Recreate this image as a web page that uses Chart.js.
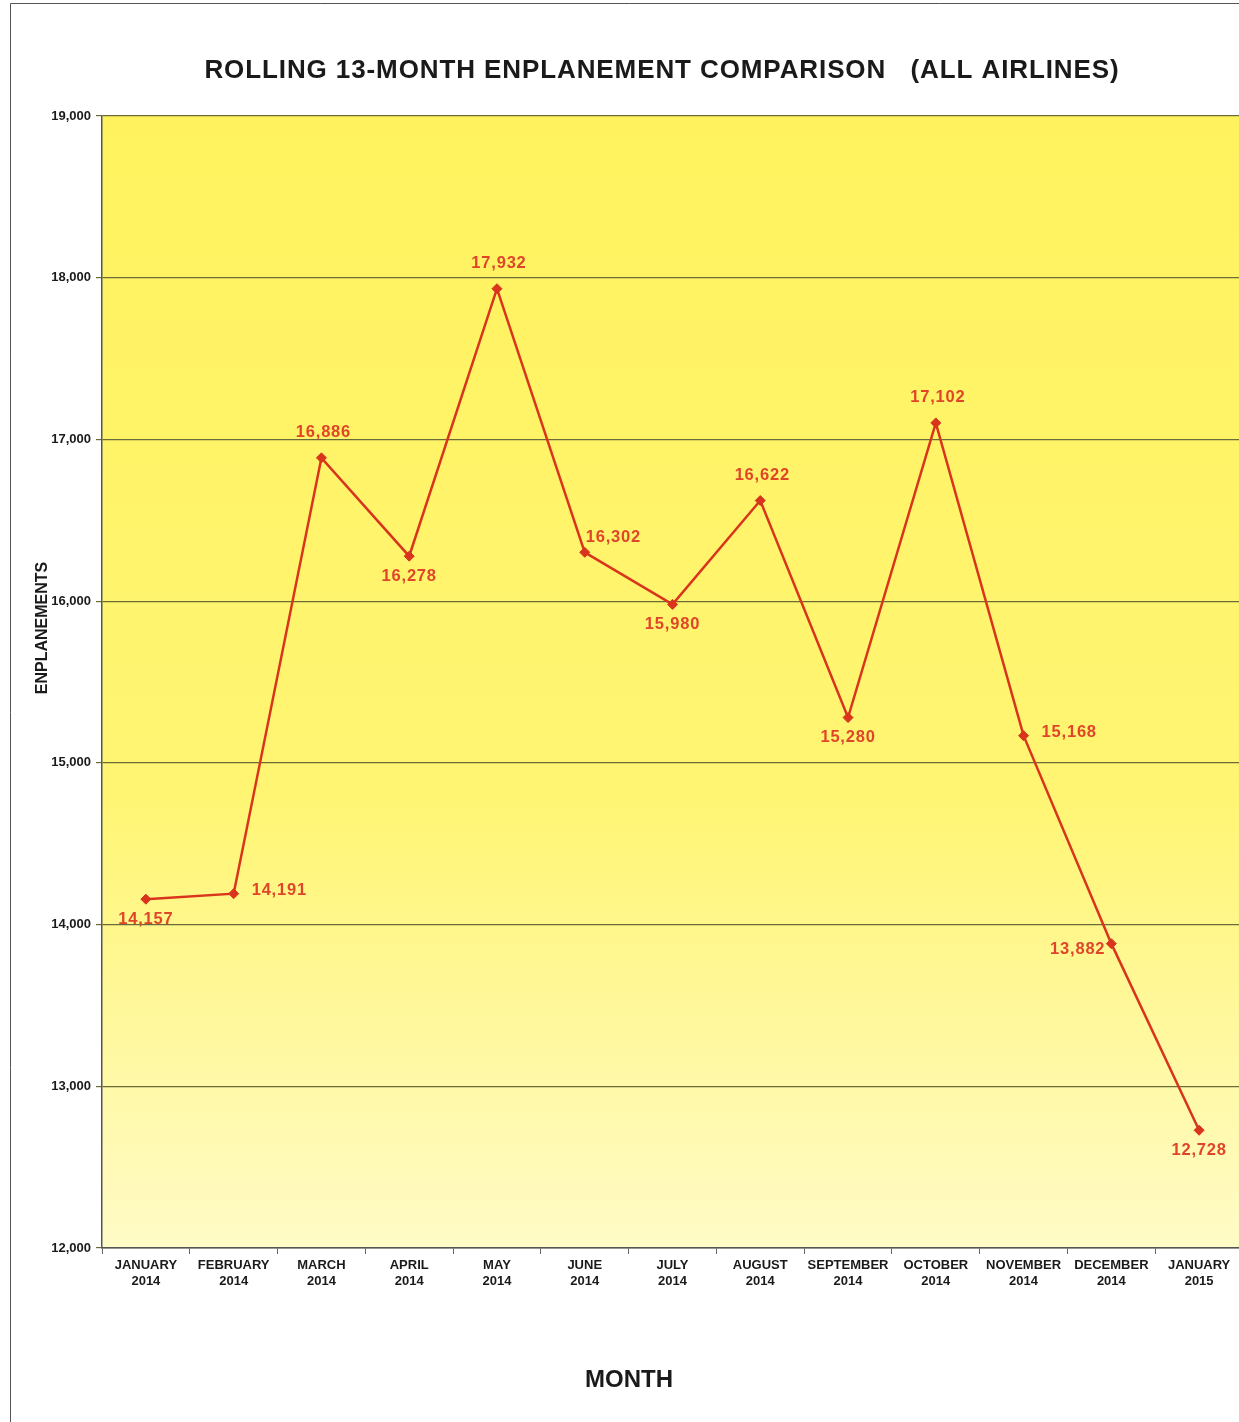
<!DOCTYPE html>
<html>
<head>
<meta charset="utf-8">
<script src="https://cdn.jsdelivr.net/npm/chart.js@4"></script>
<style>
html,body{margin:0;padding:0;background:#fff;overflow:hidden;}
#wrap{position:relative;width:1239px;height:1422px;overflow:hidden;}
</style>
</head>
<body>
<div id="wrap"><canvas id="c" width="1249" height="1422"></canvas></div>
<script>
const months = ['JANUARY','FEBRUARY','MARCH','APRIL','MAY','JUNE','JULY','AUGUST','SEPTEMBER','OCTOBER','NOVEMBER','DECEMBER','JANUARY'];
const years = ['2014','2014','2014','2014','2014','2014','2014','2014','2014','2014','2014','2014','2015'];
const enplanements = [14157,14191,16886,16278,17932,16302,15980,16622,15280,17102,15168,13882,12728];
const yTicks = [12000,13000,14000,15000,16000,17000,18000,19000];
const chartTitle = 'ROLLING 13-MONTH ENPLANEMENT COMPARISON   (ALL AIRLINES)';
const xTitle = 'MONTH';
const yTitle = 'ENPLANEMENTS';

const labels = months.map((m,i)=>[m, years[i]]);
const labelPlacement = ['below','right','above','below','above','rightup','below','above','below','above','right','left','below'];
const FONT = 'Arial, "Liberation Sans", sans-serif';

const bgPlugin = {
  id:'bg',
  beforeDraw(chart){
    const {ctx, chartArea:a} = chart;
    const g = ctx.createLinearGradient(0,a.top,0,a.bottom);
    g.addColorStop(0,'#fff25e');
    g.addColorStop(0.6,'#fff573');
    g.addColorStop(1,'#fffbc6');
    ctx.save();
    ctx.fillStyle = g;
    ctx.fillRect(a.left,a.top,a.right-a.left,a.bottom-a.top);
    ctx.restore();
  },
  afterDraw(chart){
    const ctx = chart.ctx;
    ctx.save();
    ctx.strokeStyle='#555';
    ctx.lineWidth=1;
    ctx.beginPath();
    ctx.moveTo(10.5,1422); ctx.lineTo(10.5,3.5); ctx.lineTo(1249,3.5);
    ctx.stroke();
    // titles
    ctx.fillStyle='#1a1a1a';
    ctx.textAlign='center';
    ctx.textBaseline='middle';
    ctx.font = 'bold 26px '+FONT;
    ctx.letterSpacing = '0.9px';
    ctx.fillText(chartTitle, 662, 71);
    ctx.font = 'bold 24px '+FONT;
    ctx.letterSpacing = '0px';
    ctx.fillText(xTitle, 629, 1380);
    ctx.translate(43, 628);
    ctx.rotate(-Math.PI/2);
    ctx.font = 'bold 16px '+FONT;
    ctx.fillText(yTitle, 0, 0);
    ctx.restore();
  }
};

const valueLabels = {
  id:'valueLabels',
  afterDatasetsDraw(chart){
    const {ctx} = chart;
    const meta = chart.getDatasetMeta(0);
    ctx.save();
    ctx.font = 'bold 16.5px '+FONT;
    ctx.letterSpacing = '0.8px';
    ctx.fillStyle = '#e0452a';
    ctx.textBaseline = 'middle';
    meta.data.forEach((pt,i)=>{
      const v = enplanements[i].toLocaleString('en-US');
      const p = labelPlacement[i];
      let x = pt.x, y = pt.y;
      ctx.textAlign = 'center';
      if (p==='above'){ y -= 25; x += 2; }
      else if (p==='below'){ y += 20; }
      else if (p==='right'){ ctx.textAlign='left'; x += 18; y -= 3; }
      else if (p==='rightup'){ ctx.textAlign='left'; x += 1; y -= 15; }
      else if (p==='left'){ ctx.textAlign='right'; x -= 6; y += 6; }
      ctx.fillText(v,x,y);
    });
    ctx.restore();
  }
};

new Chart(document.getElementById('c'),{
  type:'line',
  data:{
    labels: labels,
    datasets:[{
      data: enplanements,
      borderColor:'#d9341c',
      backgroundColor:'#d9341c',
      borderWidth:2.5,
      pointStyle:'rectRot',
      pointRadius:5,
      pointBorderWidth:1,
      tension:0
    }]
  },
  options:{
    responsive:false,
    animation:false,
    layout:{padding:{left:0,right:0,top:116,bottom:0}},
    plugins:{
      legend:{display:false},
      tooltip:{enabled:false},
      title:{display:false}
    },
    scales:{
      x:{
        offset:true,
        grid:{display:true,drawOnChartArea:false,offset:true,tickLength:6,color:'#666'},
        border:{display:true,color:'#555',width:1.5},
        ticks:{color:'#1a1a1a',font:{family:FONT,size:13,weight:'bold',lineHeight:1.23},padding:3,maxRotation:0,autoSkip:false},
        afterFit(s){ s.height = 174; }
      },
      y:{
        min:12000,max:19000,
        afterBuildTicks(s){ s.ticks = yTicks.map(v=>({value:v})); },
        grid:{color:'#6b6b3a',lineWidth:1.2,tickLength:6,drawTicks:true},
        border:{display:true,color:'#555',width:1.5},
        ticks:{color:'#1a1a1a',font:{family:FONT,size:13,weight:'bold'},padding:5,callback:v=>v.toLocaleString('en-US')},
        afterFit(s){ s.width = 102; }
      }
    }
  },
  plugins:[bgPlugin,valueLabels]
});
</script>
</body>
</html>
